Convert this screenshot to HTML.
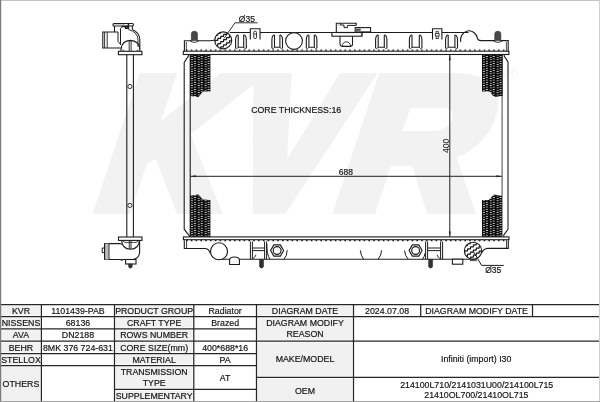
<!DOCTYPE html>
<html lang="en">
<head>
<meta charset="utf-8">
<title>KVR 1101439-PAB Radiator Diagram</title>
<style>
html,body{margin:0;padding:0;background:#fff;}
body{width:600px;height:402px;overflow:hidden;position:relative;}
svg{position:absolute;left:0;top:0;display:block;font-family:"Liberation Sans",Arial,sans-serif;will-change:transform;}
</style>
</head>
<body>
<svg width="600" height="402" viewBox="0 0 600 402">
<defs>
<pattern id="fin" shape-rendering="crispEdges" x="190" y="54.6" width="6.85" height="2.35" patternUnits="userSpaceOnUse">
<rect x="0" y="0" width="6.85" height="2.35" fill="#0c0c0c"/>
<rect x="0.9" y="0.15" width="1.7" height="0.85" fill="#d0d0d0"/>
<rect x="3.6" y="1.3" width="2.2" height="0.85" fill="#dcdcdc"/>
</pattern>
<pattern id="fin2" shape-rendering="crispEdges" x="482" y="54.6" width="6.85" height="2.35" patternUnits="userSpaceOnUse">
<rect x="0" y="0" width="6.85" height="2.35" fill="#0c0c0c"/>
<rect x="0.9" y="0.15" width="1.7" height="0.85" fill="#d0d0d0"/>
<rect x="3.6" y="1.3" width="2.2" height="0.85" fill="#dcdcdc"/>
</pattern>
<clipPath id="c1"><circle cx="223.2" cy="40.4" r="8.4"/></clipPath>
<clipPath id="c2"><circle cx="473" cy="250.8" r="8.4"/></clipPath>
</defs>
<g transform="translate(95,207) skewX(-18.4) scale(0.925,1)"><text x="-5.3" y="0" font-size="184.6" font-weight="bold" fill="#f2f2f2" stroke="#f2f2f2" stroke-width="14" stroke-linejoin="miter">K</text></g>
<g transform="translate(211,207) skewX(-18.4) scale(0.883,1)"><text x="6.6" y="0" font-size="184.6" font-weight="bold" fill="#f2f2f2" stroke="#f2f2f2" stroke-width="14" stroke-linejoin="miter">V</text></g>
<g transform="translate(334.5,207) skewX(-18.4) scale(1.050,1)"><text x="-5.3" y="0" font-size="184.6" font-weight="bold" fill="#f2f2f2" stroke="#f2f2f2" stroke-width="14" stroke-linejoin="miter">R</text></g>
<text x="511" y="78.6" font-size="19" text-anchor="middle" fill="#f5f5f5">®</text>
<rect x="113" y="23.5" width="20.4" height="2.5" rx="1" fill="#fff" stroke="#1c1c1c" stroke-width="1.1"/>
<rect x="114" y="24.2" width="11" height="1.1" fill="#b8b8b8"/>
<path d="M114.5,26 V32 M132.4,26 V29.5" stroke="#1c1c1c" stroke-width="1.1" fill="none" />
<path d="M121.6,26.6 H128.2 M125.6,26.4 V28.3 H128.4 V24" stroke="#1c1c1c" stroke-width="1.5" fill="none" />
<path d="M120.4,28.6 L122.6,26.6" stroke="#1c1c1c" stroke-width="0.9" fill="none" />
<path d="M120.5,28.5 V45" stroke="#1c1c1c" stroke-width="1.0" fill="none" />
<path d="M118,32 V41.4 L120.4,44.4" stroke="#1c1c1c" stroke-width="1.0" fill="none" />
<path d="M118,32 H102.8 V48 H121" stroke="#1c1c1c" stroke-width="1.1" fill="none" />
<line x1="104.6" y1="32" x2="104.6" y2="48" stroke="#1c1c1c" stroke-width="0.9" />
<line x1="107.2" y1="32" x2="107.2" y2="48" stroke="#1c1c1c" stroke-width="0.9" />
<path d="M132.4,29.5 Q139.6,32.6 139.8,39.6 V51.3" stroke="#1c1c1c" stroke-width="1.1" fill="none" />
<path d="M128.4,29.6 Q137.4,31.6 138,39.6 V47" stroke="#1c1c1c" stroke-width="0.9" fill="none" />
<path d="M121,51.3 V49.4 Q121.8,40.8 130.4,40.4 Q139,40.8 139.8,49" stroke="#1c1c1c" stroke-width="1.1" fill="none" />
<path d="M122.4,49.8 L124.4,50.9 M138.4,49.8 L136.6,50.9" stroke="#1c1c1c" stroke-width="0.8" fill="none" />
<path d="M129.2,41 V51.3 M131.1,41 V51.3" stroke="#1c1c1c" stroke-width="0.9" fill="none" />
<rect x="118.4" y="51.3" width="23.5" height="3.4" stroke="#1c1c1c" stroke-width="1.1" fill="#fff" />
<line x1="126.8" y1="54.7" x2="126.8" y2="237" stroke="#1c1c1c" stroke-width="1.1" />
<line x1="133.4" y1="54.7" x2="133.4" y2="237" stroke="#1c1c1c" stroke-width="1.1" />
<circle cx="129.9" cy="86.5" r="2.1" stroke="#1c1c1c" stroke-width="0.9" fill="#fff" />
<circle cx="129.9" cy="205.4" r="2.1" stroke="#1c1c1c" stroke-width="0.9" fill="#fff" />
<rect x="118.5" y="237" width="23.5" height="3.4" stroke="#1c1c1c" stroke-width="1.1" fill="#fff" />
<path d="M121.6,240.4 Q122,248.8 130.5,249.3 Q139,248.8 139.4,240.4" stroke="#1c1c1c" stroke-width="1.1" fill="none" />
<path d="M129.3,240.4 V249 M131,240.4 V249" stroke="#1c1c1c" stroke-width="0.9" fill="none" />
<path d="M123,240.4 Q123.5,242.4 125,242.4 H136 Q137.6,242.4 138,240.4" stroke="#1c1c1c" stroke-width="0.8" fill="none" />
<path d="M139.6,240.4 V252 Q139.3,258.5 133,259.5 H104.6 V243.6 H120.8" stroke="#1c1c1c" stroke-width="1.1" fill="none" />
<path d="M120.8,243.6 Q121.6,243.6 122,245" stroke="#1c1c1c" stroke-width="0.9" fill="none" />
<rect x="104.6" y="243.6" width="4.4" height="15.9" fill="#bdbdbd"/>
<line x1="104.6" y1="243.6" x2="104.6" y2="259.5" stroke="#1c1c1c" stroke-width="1.1" />
<line x1="109" y1="243.6" x2="109" y2="259.5" stroke="#1c1c1c" stroke-width="0.9" />
<path d="M104.6,248 H102.2 V252.6 H104.6" stroke="#1c1c1c" stroke-width="1.0" fill="none" />
<rect x="125.6" y="259.5" width="10.4" height="4.5" stroke="#1c1c1c" stroke-width="1.1" fill="#fff" />
<path d="M128.6,264 H132.2 V267 Q130.4,269.4 128.6,267Z" fill="#333" stroke="#222" stroke-width="0.5"/>
<rect x="120.8" y="259.6" width="1.8" height="1.2" fill="#333"/>
<path d="M190,54.6 H210.4 V91.6 H203 L198.6,97 L190,96Z" fill="url(#fin)"/>
<path d="M190,195.6 L198.6,194.4 L203,199.6 L210.4,200 V237 H190Z" fill="url(#fin)"/>
<path d="M482,54.6 H502.4 V96 L494,97 L489.6,91.6 H482Z" fill="url(#fin2)"/>
<path d="M482,200 H488.8 L493.8,194.6 L502.4,195.7 V237 H482Z" fill="url(#fin2)"/>
<path d="M188.4,54.6 V56 L184.2,62.4 V229.2 L189.4,236 V237" stroke="#1c1c1c" stroke-width="1.1" fill="none" />
<line x1="190.2" y1="54.6" x2="190.2" y2="237" stroke="#1c1c1c" stroke-width="1.1" />
<path d="M504.2,54.6 V56 L508,62 V229.2 L503.8,235 V237" stroke="#1c1c1c" stroke-width="1.1" fill="none" />
<line x1="502.1" y1="96" x2="502.1" y2="196" stroke="#555" stroke-width="1.1" />
<line x1="502.4" y1="54.6" x2="502.4" y2="96" stroke="#222" stroke-width="0.8" />
<rect x="183.3" y="51.2" width="325.6" height="3.3" stroke="#1c1c1c" stroke-width="1.1" fill="#fff" />
<line x1="186" y1="50.2" x2="507" y2="50.2" stroke="#1c1c1c" stroke-width="1.3" stroke-dasharray="1.6 3.2"/>
<path d="M184.4,51.2 V40.7 H210 Q213,40.7 214.8,40" stroke="#1c1c1c" stroke-width="1.1" fill="none" />
<path d="M186.3,51.2 V42" stroke="#1c1c1c" stroke-width="0.8" fill="none" />
<path d="M229.8,32.5 H250.3 M260,32.5 H336.3 M361.9,36.2 V32.5 H432.5 M441.9,32.5 H468.5" stroke="#1c1c1c" stroke-width="1.1" fill="none" />
<path d="M460.6,41.8 A8.5,9.2 0 0 1 477.5,38.4 Q478,40.6 481,40.6 H508.2 V51.2" stroke="#1c1c1c" stroke-width="1.1" fill="none" />
<path d="M506.4,51.2 V42" stroke="#1c1c1c" stroke-width="0.8" fill="none" />
<path d="M191.4,40.7 V34 Q191.4,31.2 194.4,31.2 Q197.4,31.2 197.4,34 V40.7Z" fill="#484848" stroke="#333" stroke-width="0.7"/>
<path d="M190.0,40.7 Q194.4,44 198.8,40.7" stroke="#1c1c1c" stroke-width="0.9" fill="none" />
<path d="M191.4,40.7 Q194.4,42.6 197.4,40.7Z" fill="#ddd"/>
<path d="M494.8,40.7 V34 Q494.8,31.2 497.8,31.2 Q500.8,31.2 500.8,34 V40.7Z" fill="#484848" stroke="#333" stroke-width="0.7"/>
<path d="M493.40000000000003,40.7 Q497.8,44 502.2,40.7" stroke="#1c1c1c" stroke-width="0.9" fill="none" />
<path d="M494.8,40.7 Q497.8,42.6 500.8,40.7Z" fill="#ddd"/>
<circle cx="223.2" cy="40.4" r="8.5" fill="#fff"/>
<g clip-path="url(#c1)" stroke="#1c1c1c" stroke-width="1.25" fill="none" stroke-linejoin="miter"><path d="M212.2,32.0 L214.7,32.0 L215.1,30.0 L217.6,30.0 L218.0,28.0 L220.5,28.0 L220.9,26.0 L223.4,26.0 L223.8,24.0 L226.3,24.0 L226.7,22.0 L229.2,22.0 L229.6,20.0 L232.1,20.0 L232.5,18.0 L235.0,18.0 L235.4,16.0 L237.9,16.0 L238.3,14.0"/><path d="M212.2,37.2 L214.7,37.2 L215.1,35.2 L217.6,35.2 L218.0,33.2 L220.5,33.2 L220.9,31.2 L223.4,31.2 L223.8,29.2 L226.3,29.2 L226.7,27.2 L229.2,27.2 L229.6,25.2 L232.1,25.2 L232.5,23.2 L235.0,23.2 L235.4,21.2 L237.9,21.2 L238.3,19.2"/><path d="M212.2,42.4 L214.7,42.4 L215.1,40.4 L217.6,40.4 L218.0,38.4 L220.5,38.4 L220.9,36.4 L223.4,36.4 L223.8,34.4 L226.3,34.4 L226.7,32.4 L229.2,32.4 L229.6,30.4 L232.1,30.4 L232.5,28.4 L235.0,28.4 L235.4,26.4 L237.9,26.4 L238.3,24.4"/><path d="M212.2,47.6 L214.7,47.6 L215.1,45.6 L217.6,45.6 L218.0,43.6 L220.5,43.6 L220.9,41.6 L223.4,41.6 L223.8,39.6 L226.3,39.6 L226.7,37.6 L229.2,37.6 L229.6,35.6 L232.1,35.6 L232.5,33.6 L235.0,33.6 L235.4,31.6 L237.9,31.6 L238.3,29.6"/><path d="M212.2,52.8 L214.7,52.8 L215.1,50.8 L217.6,50.8 L218.0,48.8 L220.5,48.8 L220.9,46.8 L223.4,46.8 L223.8,44.8 L226.3,44.8 L226.7,42.8 L229.2,42.8 L229.6,40.8 L232.1,40.8 L232.5,38.8 L235.0,38.8 L235.4,36.8 L237.9,36.8 L238.3,34.8"/><path d="M212.2,58.0 L214.7,58.0 L215.1,56.0 L217.6,56.0 L218.0,54.0 L220.5,54.0 L220.9,52.0 L223.4,52.0 L223.8,50.0 L226.3,50.0 L226.7,48.0 L229.2,48.0 L229.6,46.0 L232.1,46.0 L232.5,44.0 L235.0,44.0 L235.4,42.0 L237.9,42.0 L238.3,40.0"/><path d="M212.2,63.2 L214.7,63.2 L215.1,61.2 L217.6,61.2 L218.0,59.2 L220.5,59.2 L220.9,57.2 L223.4,57.2 L223.8,55.2 L226.3,55.2 L226.7,53.2 L229.2,53.2 L229.6,51.2 L232.1,51.2 L232.5,49.2 L235.0,49.2 L235.4,47.2 L237.9,47.2 L238.3,45.2"/></g>
<circle cx="223.2" cy="40.4" r="8.5" stroke="#1c1c1c" stroke-width="1.1" fill="none" />
<path d="M224,38.5 L235,22.8 H257.6" stroke="#1c1c1c" stroke-width="0.9" fill="none" />
<text x="238.8" y="22.4" font-size="8.5" text-anchor="start" fill="#141414" stroke="#141414" stroke-width="0.18" >Ø35</text>
<path d="M235.6,48.2 V39.5 Q235.9,35 238.2,35 M243.70000000000002,35 Q246.0,35 246.3,39.5 V48.2" stroke="#1c1c1c" stroke-width="1.1" fill="none" />
<path d="M238.2,35 V47.300000000000004 H243.70000000000002 V35" stroke="#1c1c1c" stroke-width="1.1" fill="none" />
<path d="M235.6,48.2 Q236.9,49.400000000000006 238.2,47.300000000000004 M246.3,48.2 Q245.0,49.400000000000006 243.70000000000002,47.300000000000004" stroke="#1c1c1c" stroke-width="0.8" fill="none" />
<path d="M271.9,48.2 V39.5 Q272.2,35 274.5,35 M279.9,35 Q282.2,35 282.5,39.5 V48.2" stroke="#1c1c1c" stroke-width="1.1" fill="none" />
<path d="M274.5,35 V47.300000000000004 H279.9 V35" stroke="#1c1c1c" stroke-width="1.1" fill="none" />
<path d="M271.9,48.2 Q273.2,49.400000000000006 274.5,47.300000000000004 M282.5,48.2 Q281.2,49.400000000000006 279.9,47.300000000000004" stroke="#1c1c1c" stroke-width="0.8" fill="none" />
<path d="M306.3,48.2 V39.5 Q306.6,35 308.90000000000003,35 M314.29999999999995,35 Q316.59999999999997,35 316.9,39.5 V48.2" stroke="#1c1c1c" stroke-width="1.1" fill="none" />
<path d="M308.90000000000003,35 V47.300000000000004 H314.29999999999995 V35" stroke="#1c1c1c" stroke-width="1.1" fill="none" />
<path d="M306.3,48.2 Q307.6,49.400000000000006 308.90000000000003,47.300000000000004 M316.9,48.2 Q315.59999999999997,49.400000000000006 314.29999999999995,47.300000000000004" stroke="#1c1c1c" stroke-width="0.8" fill="none" />
<path d="M375.6,48.2 V39.5 Q375.90000000000003,35 378.20000000000005,35 M384.29999999999995,35 Q386.59999999999997,35 386.9,39.5 V48.2" stroke="#1c1c1c" stroke-width="1.1" fill="none" />
<path d="M378.20000000000005,35 V47.300000000000004 H384.29999999999995 V35" stroke="#1c1c1c" stroke-width="1.1" fill="none" />
<path d="M375.6,48.2 Q376.90000000000003,49.400000000000006 378.20000000000005,47.300000000000004 M386.9,48.2 Q385.59999999999997,49.400000000000006 384.29999999999995,47.300000000000004" stroke="#1c1c1c" stroke-width="0.8" fill="none" />
<path d="M409.4,48.2 V39.5 Q409.7,35 412.0,35 M419.29999999999995,35 Q421.59999999999997,35 421.9,39.5 V48.2" stroke="#1c1c1c" stroke-width="1.1" fill="none" />
<path d="M412.0,35 V47.300000000000004 H419.29999999999995 V35" stroke="#1c1c1c" stroke-width="1.1" fill="none" />
<path d="M409.4,48.2 Q410.7,49.400000000000006 412.0,47.300000000000004 M421.9,48.2 Q420.59999999999997,49.400000000000006 419.29999999999995,47.300000000000004" stroke="#1c1c1c" stroke-width="0.8" fill="none" />
<path d="M445.6,48.2 V39.5 Q445.90000000000003,35 448.20000000000005,35 M454.9,35 Q457.2,35 457.5,39.5 V48.2" stroke="#1c1c1c" stroke-width="1.1" fill="none" />
<path d="M448.20000000000005,35 V47.300000000000004 H454.9 V35" stroke="#1c1c1c" stroke-width="1.1" fill="none" />
<path d="M445.6,48.2 Q446.90000000000003,49.400000000000006 448.20000000000005,47.300000000000004 M457.5,48.2 Q456.2,49.400000000000006 454.9,47.300000000000004" stroke="#1c1c1c" stroke-width="0.8" fill="none" />
<path d="M250.3,39.4 V28.8 H260 V39.4" stroke="#1c1c1c" stroke-width="1.1" fill="none" />
<rect x="253.75" y="31.2" width="2.8" height="7.4" rx="1.4" fill="#fff" stroke="#222" stroke-width="0.9"/>
<line x1="253.95000000000002" y1="34" x2="256.35" y2="34" stroke="#1c1c1c" stroke-width="0.8" />
<path d="M432.5,39.4 V28.8 H441.9 V39.4" stroke="#1c1c1c" stroke-width="1.1" fill="none" />
<rect x="436.09999999999997" y="31.6" width="2.2" height="7" fill="#fff" stroke="#222" stroke-width="0.8"/>
<rect x="435.3" y="33.6" width="3.8" height="2.4" fill="#fff" stroke="#222" stroke-width="0.8"/>
<circle cx="294" cy="41" r="8.4" stroke="#1c1c1c" stroke-width="1.1" fill="#fff" />
<path d="M336.3,32.5 V23.2 H356.2 V25.6" stroke="#1c1c1c" stroke-width="1.1" fill="none" />
<path d="M340.6,23.2 V25 H344 V27.6 H347.4 V25.4 H356.2" stroke="#1c1c1c" stroke-width="1.0" fill="none" />
<line x1="340.6" y1="25" x2="336.3" y2="25" stroke="#777" stroke-width="0.5" />
<rect x="331.9" y="32.5" width="30" height="3.7" stroke="#1c1c1c" stroke-width="1.1" fill="#fff" />
<path d="M336.3,32.5 H355" stroke="#1c1c1c" stroke-width="1.1" fill="none" />
<path d="M340,36.2 V44.5 Q340.2,46.4 342.5,46.4 H350 Q352.4,46.4 352.5,44.5 V36.2" stroke="#1c1c1c" stroke-width="1.1" fill="none" />
<path d="M342.2,46.2 A4.2,4.4 0 0 1 350.6,46.2" stroke="#1c1c1c" stroke-width="0.9" fill="none" />
<rect x="355.2" y="27.6" width="15.4" height="4.3" stroke="#1c1c1c" stroke-width="1.1" fill="#fff" />
<rect x="355.6" y="28.4" width="5" height="3" fill="#777"/>
<line x1="355.2" y1="29.8" x2="361" y2="29.8" stroke="#222" stroke-width="0.5" />
<rect x="183.4" y="236.9" width="325.6" height="2.8" stroke="#1c1c1c" stroke-width="1.1" fill="#fff" />
<line x1="186" y1="240.7" x2="507" y2="240.7" stroke="#1c1c1c" stroke-width="1.3" stroke-dasharray="1.6 3.2"/>
<path d="M184.3,240.2 V248.5 H205.5 Q209,249 210.4,253.5" stroke="#1c1c1c" stroke-width="1.1" fill="none" />
<path d="M186.6,240.2 V248.5" stroke="#1c1c1c" stroke-width="0.9" fill="none" />
<circle cx="219" cy="251.3" r="8.5" stroke="#1c1c1c" stroke-width="1.1" fill="#fff" />
<path d="M222,259.2 H470" stroke="#1c1c1c" stroke-width="1.1" fill="none" />
<path d="M229.6,264.5 V259.6 Q230,257 234.5,257 Q239,257 239.4,259.6 V264.5Z" stroke="#1c1c1c" stroke-width="1.1" fill="#fff" />
<path d="M250.4,241.5 V259.2 M252.4,241.5 V259.2 M264.6,241.5 V259.2 M266.6,241.5 V259.2" stroke="#1c1c1c" stroke-width="1.0" fill="none" />
<path d="M252.4,248 H264.6 M252.4,250.6 H264.6" stroke="#1c1c1c" stroke-width="1.0" fill="none" />
<path d="M252.9,258.6 Q254.9,257.8 256.0,254.8" stroke="#1c1c1c" stroke-width="0.9" fill="none" />
<path d="M425.6,241.5 V259.2 M427.6,241.5 V259.2 M440.6,241.5 V259.2 M442.6,241.5 V259.2" stroke="#1c1c1c" stroke-width="1.0" fill="none" />
<path d="M427.6,248 H440.6 M427.6,250.6 H440.6" stroke="#1c1c1c" stroke-width="1.0" fill="none" />
<path d="M440.1,258.6 Q438.1,257.8 437.0,254.8" stroke="#1c1c1c" stroke-width="0.9" fill="none" />
<path d="M259.5,259.4 H263.5 V266.8 Q261.5,269.6 259.5,266.8Z" fill="#333" stroke="#222" stroke-width="0.5"/>
<path d="M428.6,259.4 H432.6 V266.8 Q430.6,269.6 428.6,266.8Z" fill="#333" stroke="#222" stroke-width="0.5"/>
<polygon points="283.60,250.50 280.35,256.13 273.85,256.13 270.60,250.50 273.85,244.87 280.35,244.87" fill="#fff" stroke="#1c1c1c" stroke-width="1.15"/>
<circle cx="277.1" cy="250.5" r="3.9" stroke="#1c1c1c" stroke-width="1.15" fill="#fff" />
<polygon points="422.10,250.50 418.85,256.13 412.35,256.13 409.10,250.50 412.35,244.87 418.85,244.87" fill="#fff" stroke="#1c1c1c" stroke-width="1.15"/>
<circle cx="415.6" cy="250.5" r="3.9" stroke="#1c1c1c" stroke-width="1.15" fill="#fff" />
<path d="M266.9,244 Q266.5,254 270,259.2" stroke="#1c1c1c" stroke-width="1.0" fill="none" />
<path d="M287.2,250.2 Q287,256 284,259.2" stroke="#1c1c1c" stroke-width="1.0" fill="none" />
<path d="M404.5,250.5 Q405,256 408.2,259.2" stroke="#1c1c1c" stroke-width="1.0" fill="none" />
<path d="M425.2,253 Q424.6,256.5 422.6,259.2" stroke="#1c1c1c" stroke-width="1.0" fill="none" />
<path d="M360.3,250.4 Q360.8,255.6 363.6,259.2 M381.6,250.4 Q381.2,255.6 378.2,259.2" stroke="#1c1c1c" stroke-width="1.0" fill="none" />
<rect x="452.4" y="259.2" width="10.4" height="5" stroke="#1c1c1c" stroke-width="1.1" fill="#fff" />
<path d="M508.3,240.2 V248.4 H487.6 Q483.5,248.6 481.5,253.2" stroke="#1c1c1c" stroke-width="1.1" fill="none" />
<path d="M506.6,240.2 V248.4" stroke="#1c1c1c" stroke-width="0.9" fill="none" />
<circle cx="473" cy="250.8" r="8.6" fill="#fff"/>
<g clip-path="url(#c2)" stroke="#1c1c1c" stroke-width="1.25" fill="none" stroke-linejoin="miter"><path d="M462.0,242.4 L464.5,242.4 L464.9,240.4 L467.4,240.4 L467.8,238.4 L470.3,238.4 L470.7,236.4 L473.2,236.4 L473.6,234.4 L476.1,234.4 L476.5,232.4 L479.0,232.4 L479.4,230.4 L481.9,230.4 L482.3,228.4 L484.8,228.4 L485.2,226.4 L487.7,226.4 L488.1,224.4"/><path d="M462.0,247.6 L464.5,247.6 L464.9,245.6 L467.4,245.6 L467.8,243.6 L470.3,243.6 L470.7,241.6 L473.2,241.6 L473.6,239.6 L476.1,239.6 L476.5,237.6 L479.0,237.6 L479.4,235.6 L481.9,235.6 L482.3,233.6 L484.8,233.6 L485.2,231.6 L487.7,231.6 L488.1,229.6"/><path d="M462.0,252.8 L464.5,252.8 L464.9,250.8 L467.4,250.8 L467.8,248.8 L470.3,248.8 L470.7,246.8 L473.2,246.8 L473.6,244.8 L476.1,244.8 L476.5,242.8 L479.0,242.8 L479.4,240.8 L481.9,240.8 L482.3,238.8 L484.8,238.8 L485.2,236.8 L487.7,236.8 L488.1,234.8"/><path d="M462.0,258.0 L464.5,258.0 L464.9,256.0 L467.4,256.0 L467.8,254.0 L470.3,254.0 L470.7,252.0 L473.2,252.0 L473.6,250.0 L476.1,250.0 L476.5,248.0 L479.0,248.0 L479.4,246.0 L481.9,246.0 L482.3,244.0 L484.8,244.0 L485.2,242.0 L487.7,242.0 L488.1,240.0"/><path d="M462.0,263.2 L464.5,263.2 L464.9,261.2 L467.4,261.2 L467.8,259.2 L470.3,259.2 L470.7,257.2 L473.2,257.2 L473.6,255.2 L476.1,255.2 L476.5,253.2 L479.0,253.2 L479.4,251.2 L481.9,251.2 L482.3,249.2 L484.8,249.2 L485.2,247.2 L487.7,247.2 L488.1,245.2"/><path d="M462.0,268.4 L464.5,268.4 L464.9,266.4 L467.4,266.4 L467.8,264.4 L470.3,264.4 L470.7,262.4 L473.2,262.4 L473.6,260.4 L476.1,260.4 L476.5,258.4 L479.0,258.4 L479.4,256.4 L481.9,256.4 L482.3,254.4 L484.8,254.4 L485.2,252.4 L487.7,252.4 L488.1,250.4"/><path d="M462.0,273.6 L464.5,273.6 L464.9,271.6 L467.4,271.6 L467.8,269.6 L470.3,269.6 L470.7,267.6 L473.2,267.6 L473.6,265.6 L476.1,265.6 L476.5,263.6 L479.0,263.6 L479.4,261.6 L481.9,261.6 L482.3,259.6 L484.8,259.6 L485.2,257.6 L487.7,257.6 L488.1,255.6"/></g>
<circle cx="473" cy="250.8" r="8.6" stroke="#1c1c1c" stroke-width="1.1" fill="none" />
<rect x="470.6" y="259.2" width="5.6" height="1.5" stroke="#1c1c1c" stroke-width="0.8" fill="none" />
<path d="M473,250.8 L481.6,265.4 H503.8" stroke="#1c1c1c" stroke-width="1.0" fill="none" />
<text x="485.2" y="272.8" font-size="8.5" text-anchor="start" fill="#141414" stroke="#141414" stroke-width="0.18" >Ø35</text>
<line x1="190.5" y1="176.3" x2="501.8" y2="176.3" stroke="#222" stroke-width="1.0" />
<path d="M190.4,176.3 L196,175.3 V177.3Z" fill="#222"/>
<path d="M502,176.3 L496.4,175.3 V177.3Z" fill="#222"/>
<text x="345.9" y="175" font-size="8.5" text-anchor="middle" fill="#141414" stroke="#141414" stroke-width="0.18" >688</text>
<line x1="449.8" y1="55" x2="449.8" y2="236.6" stroke="#222" stroke-width="1.0" />
<path d="M449.8,54.6 L448.8,60.2 H450.8Z" fill="#222"/>
<path d="M449.8,237 L448.8,231.4 H450.8Z" fill="#222"/>
<text transform="translate(449.1,145.9) rotate(-90)" font-size="8.5" text-anchor="middle" fill="#1a1a1a">400</text>
<text x="251.2" y="113" font-size="8.78" text-anchor="start" fill="#141414" stroke="#141414" stroke-width="0.18" >CORE THICKNESS:16</text>
<rect x="0" y="304.5" width="41.4" height="97.5" fill="#f1f1f1"/>
<rect x="114.5" y="304.5" width="79.30000000000001" height="97.5" fill="#f1f1f1"/>
<rect x="256.5" y="304.5" width="97.0" height="97.5" fill="#f1f1f1"/>
<line x1="0" y1="304.5" x2="600" y2="304.5" stroke="#fff" stroke-width="2.75" />
<line x1="0" y1="316.6" x2="600" y2="316.6" stroke="#fff" stroke-width="2.75" />
<line x1="0" y1="328.8" x2="256.5" y2="328.8" stroke="#fff" stroke-width="2.75" />
<line x1="0" y1="341.0" x2="600" y2="341.0" stroke="#fff" stroke-width="2.75" />
<line x1="0" y1="353.6" x2="256.5" y2="353.6" stroke="#fff" stroke-width="2.75" />
<line x1="0" y1="365.5" x2="256.5" y2="365.5" stroke="#fff" stroke-width="2.75" />
<line x1="114.5" y1="389.3" x2="256.5" y2="389.3" stroke="#fff" stroke-width="2.75" />
<line x1="256.5" y1="377.3" x2="600" y2="377.3" stroke="#fff" stroke-width="2.75" />
<line x1="41.4" y1="304.5" x2="41.4" y2="402" stroke="#fff" stroke-width="2.75" />
<line x1="114.5" y1="304.5" x2="114.5" y2="402" stroke="#fff" stroke-width="2.75" />
<line x1="193.8" y1="304.5" x2="193.8" y2="402" stroke="#fff" stroke-width="2.75" />
<line x1="256.5" y1="304.5" x2="256.5" y2="402" stroke="#fff" stroke-width="2.75" />
<line x1="353.5" y1="304.5" x2="353.5" y2="402" stroke="#fff" stroke-width="2.75" />
<line x1="420.7" y1="304.5" x2="420.7" y2="316.6" stroke="#fff" stroke-width="2.75" />
<line x1="532.5" y1="304.5" x2="532.5" y2="316.6" stroke="#fff" stroke-width="2.75" />
<line x1="0" y1="304.5" x2="600" y2="304.5" stroke="#262626" stroke-width="1.25" />
<line x1="0" y1="316.6" x2="600" y2="316.6" stroke="#262626" stroke-width="1.25" />
<line x1="0" y1="328.8" x2="256.5" y2="328.8" stroke="#262626" stroke-width="1.25" />
<line x1="0" y1="341.0" x2="600" y2="341.0" stroke="#262626" stroke-width="1.25" />
<line x1="0" y1="353.6" x2="256.5" y2="353.6" stroke="#262626" stroke-width="1.25" />
<line x1="0" y1="365.5" x2="256.5" y2="365.5" stroke="#262626" stroke-width="1.25" />
<line x1="114.5" y1="389.3" x2="256.5" y2="389.3" stroke="#262626" stroke-width="1.25" />
<line x1="256.5" y1="377.3" x2="600" y2="377.3" stroke="#262626" stroke-width="1.25" />
<line x1="41.4" y1="304.5" x2="41.4" y2="402" stroke="#262626" stroke-width="1.25" />
<line x1="114.5" y1="304.5" x2="114.5" y2="402" stroke="#262626" stroke-width="1.25" />
<line x1="193.8" y1="304.5" x2="193.8" y2="402" stroke="#262626" stroke-width="1.25" />
<line x1="256.5" y1="304.5" x2="256.5" y2="402" stroke="#262626" stroke-width="1.25" />
<line x1="353.5" y1="304.5" x2="353.5" y2="402" stroke="#262626" stroke-width="1.25" />
<line x1="420.7" y1="304.5" x2="420.7" y2="316.6" stroke="#262626" stroke-width="1.25" />
<line x1="532.5" y1="304.5" x2="532.5" y2="316.6" stroke="#262626" stroke-width="1.25" />
<text x="20.95" y="313.6" font-size="8.8" text-anchor="middle" fill="#141414" stroke="#141414" stroke-width="0.18" >KVR</text>
<text x="20.95" y="325.9" font-size="8.8" text-anchor="middle" fill="#141414" stroke="#141414" stroke-width="0.18" >NISSENS</text>
<text x="20.95" y="338.2" font-size="8.8" text-anchor="middle" fill="#141414" stroke="#141414" stroke-width="0.18" >AVA</text>
<text x="20.95" y="350.5" font-size="8.8" text-anchor="middle" fill="#141414" stroke="#141414" stroke-width="0.18" >BEHR</text>
<text x="20.95" y="362.6" font-size="8.8" text-anchor="middle" fill="#141414" stroke="#141414" stroke-width="0.18" >STELLOX</text>
<text x="20.95" y="387" font-size="8.8" text-anchor="middle" fill="#141414" stroke="#141414" stroke-width="0.18" >OTHERS</text>
<text x="77.95" y="313.6" font-size="8.8" text-anchor="middle" fill="#141414" stroke="#141414" stroke-width="0.18" >1101439-PAB</text>
<text x="77.95" y="325.9" font-size="8.8" text-anchor="middle" fill="#141414" stroke="#141414" stroke-width="0.18" >68136</text>
<text x="77.95" y="338.2" font-size="8.8" text-anchor="middle" fill="#141414" stroke="#141414" stroke-width="0.18" >DN2188</text>
<text x="77.95" y="350.5" font-size="8.8" text-anchor="middle" fill="#141414" stroke="#141414" stroke-width="0.18" >8MK 376 724-631</text>
<text x="154.15" y="313.6" font-size="8.8" text-anchor="middle" fill="#141414" stroke="#141414" stroke-width="0.18" >PRODUCT GROUP</text>
<text x="154.15" y="325.9" font-size="8.8" text-anchor="middle" fill="#141414" stroke="#141414" stroke-width="0.18" >CRAFT TYPE</text>
<text x="154.15" y="338.2" font-size="8.8" text-anchor="middle" fill="#141414" stroke="#141414" stroke-width="0.18" >ROWS NUMBER</text>
<text x="154.15" y="350.5" font-size="8.8" text-anchor="middle" fill="#141414" stroke="#141414" stroke-width="0.18" >CORE SIZE(mm)</text>
<text x="154.15" y="362.6" font-size="8.8" text-anchor="middle" fill="#141414" stroke="#141414" stroke-width="0.18" >MATERIAL</text>
<text x="154.15" y="375.1" font-size="8.8" text-anchor="middle" fill="#141414" stroke="#141414" stroke-width="0.18" >TRANSMISSION</text>
<text x="154.15" y="385.5" font-size="8.8" text-anchor="middle" fill="#141414" stroke="#141414" stroke-width="0.18" >TYPE</text>
<text x="154.15" y="398.9" font-size="8.8" text-anchor="middle" fill="#141414" stroke="#141414" stroke-width="0.18" >SUPPLEMENTARY</text>
<text x="225.15" y="313.6" font-size="8.8" text-anchor="middle" fill="#141414" stroke="#141414" stroke-width="0.18" >Radiator</text>
<text x="225.15" y="325.9" font-size="8.8" text-anchor="middle" fill="#141414" stroke="#141414" stroke-width="0.18" >Brazed</text>
<text x="225.15" y="350.5" font-size="8.8" text-anchor="middle" fill="#141414" stroke="#141414" stroke-width="0.18" >400*688*16</text>
<text x="225.15" y="362.6" font-size="8.8" text-anchor="middle" fill="#141414" stroke="#141414" stroke-width="0.18" >PA</text>
<text x="225.15" y="380.6" font-size="8.8" text-anchor="middle" fill="#141414" stroke="#141414" stroke-width="0.18" >AT</text>
<text x="305.0" y="313.6" font-size="8.8" text-anchor="middle" fill="#141414" stroke="#141414" stroke-width="0.18" >DIAGRAM DATE</text>
<text x="305.0" y="326.3" font-size="8.8" text-anchor="middle" fill="#141414" stroke="#141414" stroke-width="0.18" >DIAGRAM MODIFY</text>
<text x="305.0" y="336.9" font-size="8.8" text-anchor="middle" fill="#141414" stroke="#141414" stroke-width="0.18" >REASON</text>
<text x="305.0" y="362.4" font-size="8.8" text-anchor="middle" fill="#141414" stroke="#141414" stroke-width="0.18" >MAKE/MODEL</text>
<text x="305.0" y="394.2" font-size="8.8" text-anchor="middle" fill="#141414" stroke="#141414" stroke-width="0.18" >OEM</text>
<text x="387.1" y="313.6" font-size="8.8" text-anchor="middle" fill="#141414" stroke="#141414" stroke-width="0.18" >2024.07.08</text>
<text x="476.6" y="313.6" font-size="8.8" text-anchor="middle" fill="#141414" stroke="#141414" stroke-width="0.18" >DIAGRAM MODIFY DATE</text>
<text x="476.2" y="362.4" font-size="8.8" text-anchor="middle" fill="#141414" stroke="#141414" stroke-width="0.18" >Infiniti (import) I30</text>
<text x="476.7" y="387.6" font-size="8.8" text-anchor="middle" fill="#141414" stroke="#141414" stroke-width="0.18" >214100L710/2141031U00/214100L715</text>
<text x="476.4" y="397.8" font-size="8.8" text-anchor="middle" fill="#141414" stroke="#141414" stroke-width="0.18" >21410OL700/21410OL715</text>
<line x1="0" y1="0.5" x2="600" y2="0.5" stroke="#c4c4c4" stroke-width="1" />
<line x1="0.5" y1="0" x2="0.5" y2="402" stroke="#7a7a7a" stroke-width="1.4" />
<line x1="599.5" y1="0" x2="599.5" y2="402" stroke="#cfcfcf" stroke-width="1" />
<line x1="0" y1="401.6" x2="600" y2="401.6" stroke="#9a9a9a" stroke-width="1" />
</svg>
</body>
</html>
